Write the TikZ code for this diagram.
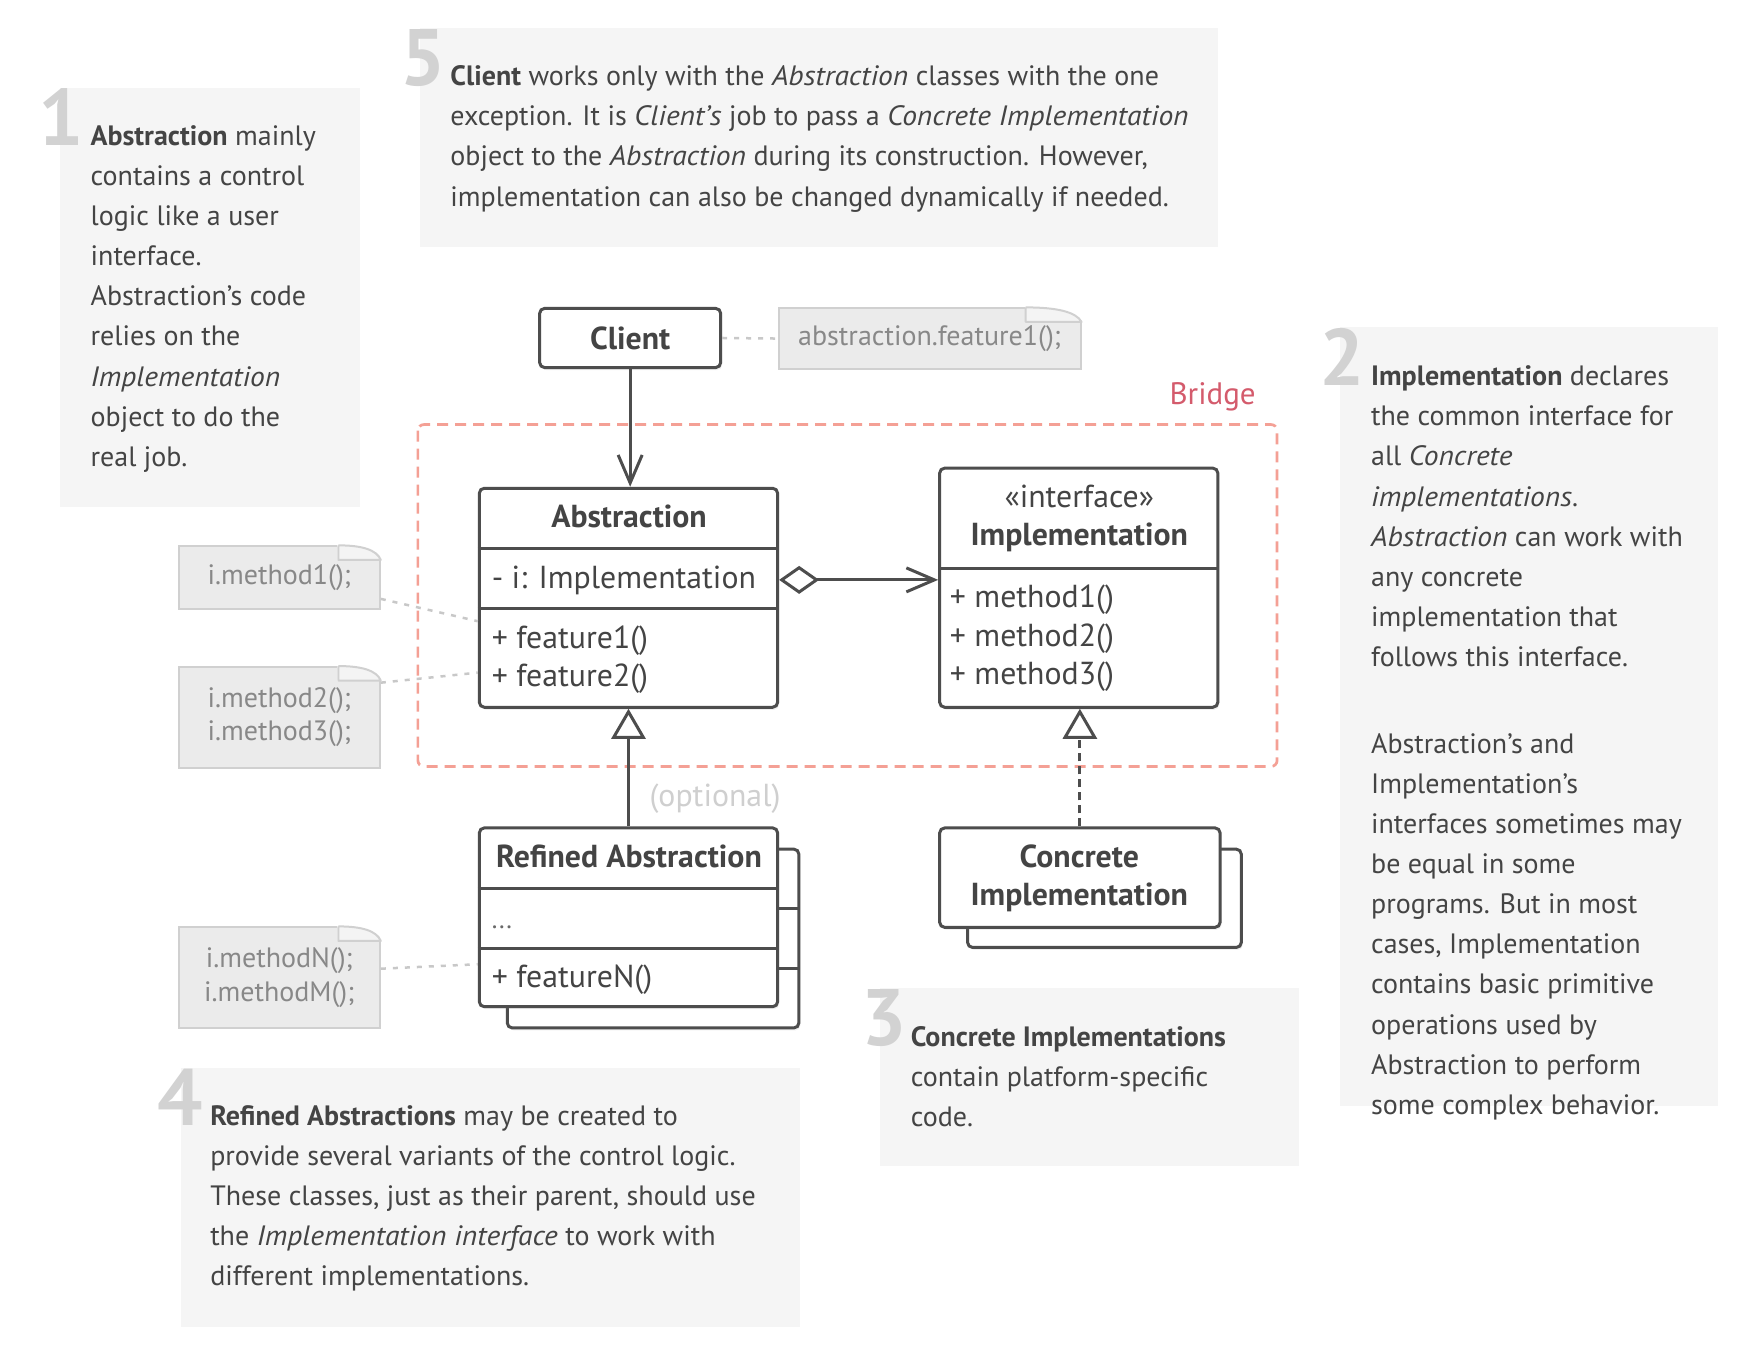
\documentclass[tikz,border=0pt]{standalone}
\usepackage{fontspec}
\setmainfont{PT Sans}[ItalicFeatures={FakeStretch=1.055}]
\usetikzlibrary{arrows.meta,shadows,calc}
\definecolor{boxbg}{HTML}{F5F5F5}
\definecolor{numgray}{HTML}{D2D2D2}
\definecolor{txt}{HTML}{444444}
\definecolor{umlline}{HTML}{4D4D4D}
\definecolor{notebg}{HTML}{EBEBEB}
\definecolor{flapbg}{HTML}{F4F4F4}
\definecolor{noteline}{HTML}{D0D0D0}
\definecolor{notetxt}{HTML}{888888}
\definecolor{linkgray}{HTML}{C8C8C8}
\definecolor{bridgeline}{HTML}{F4A095}
\definecolor{bridgetxt}{HTML}{D45B6C}
\definecolor{opttxt}{HTML}{CFCFCF}
\newcommand\notefold[3]{%
  \fill[white] ($(#1.north east)+(-#2-1,-3)$) rectangle ($(#1.north east)+(3,#3)$);
  \filldraw[fill=flapbg, draw=noteline, line width=2pt, line join=round]
    ($(#1.north east)+(-#2,0)$) -- ($(#1.north east)+(-#2,#3)$) -- ($(#1.north east)+(0,#3)$)
    .. controls ($(#1.north east)+(-#2*0.1,#3*0.3)$) and ($(#1.north east)+(-#2*0.45,0)$) .. ($(#1.north east)+(-#2,0)$);
}
\begin{document}
\begin{tikzpicture}[x=1.1173pt,y=-1.1173pt,
  numstyle/.style={font=\fontsize{80}{80}\selectfont\bfseries, text=numgray, anchor=base west, inner sep=0pt},
  bodytext/.style={font=\fontsize{28}{40.1}\selectfont, text=txt, anchor=north west, align=left, inner sep=0pt},
  umlbox/.style={draw=umlline, line width=3pt, rounded corners=5pt, fill=white, inner sep=0pt,
    drop shadow={shadow xshift=1.5pt, shadow yshift=-2.5pt, opacity=0.12}},
  umltext/.style={font=\fontsize{31.8}{36}\selectfont, text=txt, inner sep=0pt},
  umlbold/.style={font=\fontsize{31.8}{36}\selectfont\bfseries, text=txt, inner sep=0pt},
  divider/.style={draw=umlline, line width=3pt},
  notebox/.style={draw=noteline, fill=notebg, line width=2pt, inner sep=0pt,
    font=\fontsize{28}{33.5}\selectfont, text=notetxt, align=center},
  notelink/.style={draw=linkgray, line width=2.5pt, dash pattern=on 5pt off 7pt},
  conn/.style={draw=umlline, line width=3pt},
]
\useasboundingbox[fill=white] (0pt,0pt) rectangle (1752pt,-1360pt);

% ---------- comment boxes ----------
\fill[boxbg] (54,79) rectangle (322,454);
\fill[boxbg] (376,25) rectangle (1090,221);
\fill[boxbg] (1199,293) rectangle (1538,990);
\fill[boxbg] (788,884) rectangle (1163,1044);
\fill[boxbg] (162,956) rectangle (716,1188);

\node[numstyle] (num1) at (34,130) {1};
\node[numstyle] (num5) at (358,76.5) {5};
\node[numstyle] (num2) at (1181,345) {2};
\node[numstyle] (num3) at (771,936) {3};
\node[numstyle] (num4) at (141,1007) {4};

\node[bodytext] (t1) at (81,104.9) {\strut\textbf{Abstraction} mainly\\contains a control\\logic like a user\\interface.\\Abstraction's code\\relies on the\\\textit{Implementation}\\object to do the\\real job.};
\node[bodytext] (t5) at (403,51.4) {\strut\textbf{Client} works only with the \textit{Abstraction} classes with the one\\exception. It is \textit{Client's} job to pass a \textit{Concrete Implementation}\\object to the \textit{Abstraction} during its construction. However,\\implementation can also be changed dynamically if needed.};
\node[bodytext] (t2a) at (1227,319.9) {\strut\textbf{Implementation} declares\\the common interface for\\all \textit{Concrete}\\\textit{implementations}.\\\textit{Abstraction} can work with\\any concrete\\implementation that\\follows this interface.};
\node[bodytext] (t2b) at (1227,648.9) {\strut Abstraction's and\\Implementation's\\interfaces sometimes may\\be equal in some\\programs. But in most\\cases, Implementation\\contains basic primitive\\operations used by\\Abstraction to perform\\some complex behavior.};
\node[bodytext] (t3) at (815,910.9) {\strut\textbf{Concrete Implementations}\\contain platform-specific\\code.};
\node[bodytext] (t4) at (188,981.9) {\strut\textbf{Refined Abstractions} may be created to\\provide several variants of the control logic.\\These classes, just as their parent, should use\\the \textit{Implementation interface} to work with\\different implementations.};

% ---------- bridge ----------
\draw[bridgeline, line width=2.7pt, dash pattern=on 11pt off 7pt, rounded corners=6pt] (374,380) rectangle (1143,686);
\node[font=\fontsize{31}{34}\selectfont, text=bridgetxt, anchor=base east, inner sep=0pt] (bridgelbl) at (1124,362) {Bridge};

% ---------- notes ----------
\node[notebox, minimum width=302pt, minimum height=60.3pt] (cnote) at (832,303) {abstraction.feature1();};
\notefold{cnote}{50}{13}
\node[notebox, minimum width=201pt, minimum height=62.6pt] (n1) at (250,517) {i.method1();};
\notefold{n1}{38}{13}
\node[notebox, minimum width=201pt, minimum height=100.5pt] (n2) at (250,642) {i.method2();\\i.method3();};
\notefold{n2}{38}{13}
\node[notebox, minimum width=201pt, minimum height=100.5pt] (n3) at (250,875) {i.methodN();\\i.methodM();};
\notefold{n3}{38}{13}

% ---------- classes ----------
\node[umlbox, minimum width=181pt, minimum height=59.2pt, font=\fontsize{31.8}{36}\selectfont\bfseries, text=txt] (client) at (564,302.5) {Client};

\node[umlbox, minimum width=298.3pt, minimum height=219pt] (abs) at (562.5,535) {};
\draw[divider] (abs.west |- 0,491) -- (abs.east |- 0,491);
\draw[divider] (abs.west |- 0,545) -- (abs.east |- 0,545);
\node[umlbold, anchor=base] (absname) at (563,472) {Abstraction};
\node[umltext, anchor=base west] (absfield) at (440,527) {- i: Implementation};
\node[umltext, anchor=base west] (absm1) at (440,580) {+ feature1()};
\node[umltext, anchor=base west] (absm2) at (440,614) {+ feature2()};

\node[umlbox, minimum width=278.2pt, minimum height=239.1pt] (impl) at (965.5,526) {};
\draw[divider] (impl.west |- 0,509) -- (impl.east |- 0,509);
\node[umltext, anchor=base] (implst) at (966,454) {«interface»};
\node[umlbold, anchor=base] (implname) at (966,488) {Implementation};
\node[umltext, anchor=base west] (implm1) at (850,544) {+ method1()};
\node[umltext, anchor=base west] (implm2) at (850,579) {+ method2()};
\node[umltext, anchor=base west] (implm3) at (850,613) {+ method3()};

\node[umlbox, minimum width=291.6pt, minimum height=178.8pt] (rback) at (584.5,840) {};
\draw[divider] (rback.west |- 0,813) -- (rback.east |- 0,813);
\draw[divider] (rback.west |- 0,867) -- (rback.east |- 0,867);
\node[umlbox, minimum width=298.3pt, minimum height=178.8pt] (rfront) at (562.5,821) {};
\draw[divider] (rfront.west |- 0,795) -- (rfront.east |- 0,795);
\draw[divider] (rfront.west |- 0,849) -- (rfront.east |- 0,849);
\node[umlbold, anchor=base] (rname) at (563,776) {Refined Abstraction};
\node[umltext, anchor=base west, font=\fontsize{26}{30}\selectfont, text=txt!80] (rdots) at (440,831) {...};
\node[umltext, anchor=base west] (rm) at (440,884) {+ featureN()};

\node[umlbox, minimum width=273.7pt, minimum height=98.3pt] (cback) at (988.5,804) {};
\node[umlbox, minimum width=280.4pt, minimum height=99.4pt] (cfront) at (966.5,785.5) {};
\node[umlbold, anchor=base] (cname1) at (966,776) {Concrete};
\node[umlbold, anchor=base] (cname2) at (966,810) {Implementation};

\node[font=\fontsize{31.8}{36}\selectfont, text=opttxt, anchor=base, inner sep=0pt] (opt) at (640,722) {(optional)};

% ---------- connectors ----------
\draw[notelink] (client.east) -- (cnote.west);
\draw[notelink] (n1.east |- 0,536) -- (abs.west |- 0,556);
\draw[notelink] (n2.east |- 0,611) -- (abs.west |- 0,602);
\draw[notelink] (n3.east |- 0,867) -- (rfront.west |- 0,863);

\draw[conn, -{Straight Barb[length=28pt,width=24pt]}] (client.south) -- (client.south |- abs.north);
\coordinate (aggstart) at (abs.east |- 0,519);
\draw[conn, {Diamond[open,length=40pt,width=28pt]}-{Straight Barb[length=28pt,width=24pt]}] (aggstart) -- (aggstart -| impl.west);
\draw[conn, -{Triangle[open,length=30pt,width=34pt]}] (rfront.north) -- (rfront.north |- abs.south);
\draw[conn, dash pattern=on 8pt off 5pt, -{Triangle[open,length=30pt,width=34pt]}] (cfront.north) -- (cfront.north |- impl.south);
\end{tikzpicture}
\end{document}
